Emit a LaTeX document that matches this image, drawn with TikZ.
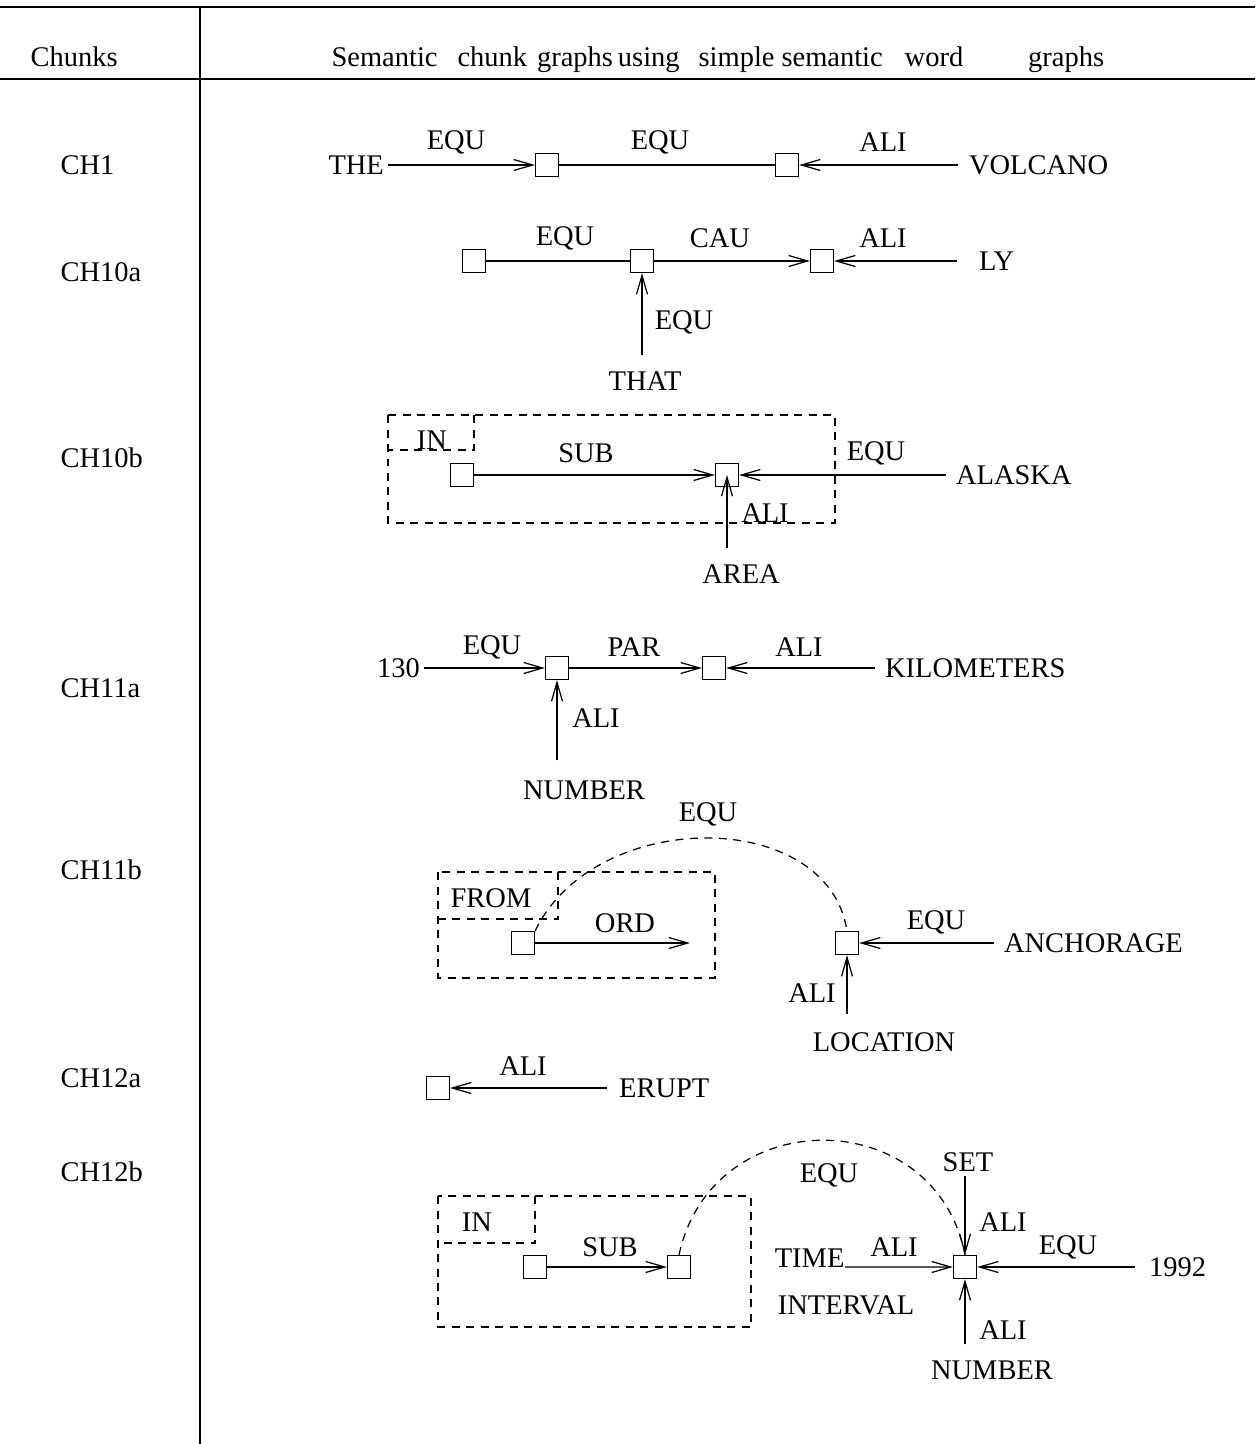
\documentclass[tikz,border=0pt]{standalone}
\usepackage{fontspec}
\setmainfont{Liberation Serif}
\usetikzlibrary{arrows.meta, positioning, calc}

\tikzset{
  cbox/.style={draw, fill=white, minimum size=0.46cm, inner sep=0pt},
  word/.style={inner sep=2pt},
  rel/.style={inner sep=0pt},
  frame/.style={dash pattern=on 0.16cm off 0.13cm},
}

\begin{document}
\begin{tikzpicture}[x=0.02cm, y=-0.02cm, >={Straight Barb[length=0.38cm,width=0.22cm]},
    line width=0.7pt, font=\fontsize{16.2}{19}\selectfont]
    \useasboundingbox (0,0) rectangle (1255,1444);

    % Table
    \draw[line width=1pt] (0,7) -- (1255,7);
    \draw[line width=1pt] (0,79) -- (1255,79);
    \draw[line width=1pt] (200,7) -- (200,1444);
    \node[anchor=base west, inner sep=0pt] (hchunks) at (30,66) {Chunks};
    \node[anchor=base west, inner sep=0pt] (hgraphs) at (331,66) {Semantic\hspace{0.40cm}chunk\hspace{0.2cm}graphs\hspace{0.1cm}using\hspace{0.38cm}simple\hspace{0.14cm}semantic\hspace{0.44cm}word\hspace{1.3cm}graphs};
    \foreach \name/\y in {CH1/165, CH10a/272, CH10b/458, CH11a/688, CH11b/870, CH12a/1078, CH12b/1172}
        \node[anchor=west, inner sep=0pt] (\name) at (60,\y) {\name};

    % CH1
    \node[word, anchor=east] (the) at (388,165) {THE};
    \node[cbox] (a1) at (547,165) {};
    \node[cbox] (a2) at (787,165) {};
    \node[word, anchor=west] (volcano) at (965,165) {VOLCANO};
    \draw[->] (the) -- (a1);
    \draw (a1) -- (a2);
    \draw[->] ([xshift=-0.14cm]volcano.west) -- (a2);
    \node[rel] at (456,142) {EQU};
    \node[rel] at (660,142) {EQU};
    \node[rel] at (883,142) {ALI};

    % CH10a
    \node[cbox] (b1) at (474,261) {};
    \node[cbox] (b2) at (642,261) {};
    \node[cbox] (b3) at (822,261) {};
    \node[word, anchor=west] (ly) at (975,261) {LY};
    \node[word] (that) at (645,381) {THAT};
    \draw (b1) -- (b2);
    \draw[->] (b2) -- (b3);
    \draw[->] ([xshift=-0.36cm]ly.west) -- (b3);
    \draw[->] (that.north -| b2) ++(0,-12) -- (b2);
    \node[rel] at (565,238) {EQU};
    \node[rel] at (720,238) {CAU};
    \node[rel] at (883,238) {ALI};
    \node[rel] at (684,322) {EQU};

    % CH10b
    \draw[frame] (388,415) rectangle (835,523);
    \draw[frame] (474,415) -- (474,450) -- (388,450);
    \node[rel] (in1) at (432,440) {IN};
    \node[cbox] (c1) at (462,475) {};
    \node[cbox] (c2) at (727,475) {};
    \node[word, anchor=west] (alaska) at (952,475) {ALASKA};
    \node[word] (area) at (741,574) {AREA};
    \draw[->] (c1) -- (c2);
    \draw[->] ([xshift=-0.12cm]alaska.west) -- (c2);
    \draw[->] (area.north -| c2) ++(0,-12) -- (c2.center);
    \node[rel] at (586,453) {SUB};
    \node[rel] at (876,453) {EQU};
    \node[rel] at (765,513) {ALI};

    % CH11a
    \node[word, anchor=east] (n130) at (424,668) {130};
    \node[cbox] (d1) at (557,668) {};
    \node[cbox] (d2) at (714,668) {};
    \node[word, anchor=west] (km) at (881,668) {KILOMETERS};
    \node[word] (number1) at (584,790) {NUMBER};
    \draw[->] (n130) -- (d1);
    \draw[->] (d1) -- (d2);
    \draw[->] ([xshift=-0.12cm]km.west) -- (d2);
    \draw[->] (number1.north -| d1) ++(0,-16) -- (d1);
    \node[rel] at (492,647) {EQU};
    \node[rel] at (634,647) {PAR};
    \node[rel] at (799,647) {ALI};
    \node[rel] at (596,718) {ALI};

    % CH11b
    \draw[frame] (438,872) rectangle (715,978);
    \draw[frame] (558,872) -- (558,919) -- (438,919);
    \node[rel] (from) at (491,898) {FROM};
    \node[cbox] (e1) at (523,943) {};
    \coordinate (ordend) at (690,943);
    \node[cbox] (e2) at (847,943) {};
    \node[word, anchor=west] (anch) at (1000,943) {ANCHORAGE};
    \node[word] (location) at (884,1042) {LOCATION};
    \draw[->] (e1) -- (ordend);
    \draw[->] ([xshift=-0.12cm]anch.west) -- (e2);
    \draw[->] (location.north -| e2) ++(0,-14) -- (e2);
    \draw[frame] (e1.north east) .. controls (595,807) and (828,807) .. (e2.north);
    \node[rel] at (625,923) {ORD};
    \node[rel] at (936,922) {EQU};
    \node[rel] at (708,814) {EQU};
    \node[rel] at (812,993) {ALI};

    % CH12a
    \node[cbox] (f1) at (438,1088) {};
    \node[word, anchor=west] (erupt) at (615,1088) {ERUPT};
    \draw[->] ([xshift=-0.16cm]erupt.west) -- (f1);
    \node[rel] at (523,1066) {ALI};

    % CH12b
    \draw[frame] (438,1196) rectangle (751,1327);
    \draw[frame] (535,1196) -- (535,1243) -- (438,1243);
    \node[rel] (in2) at (477,1222) {IN};
    \node[cbox] (g1) at (535,1267) {};
    \node[cbox] (g2) at (679,1267) {};
    \node[cbox] (g3) at (965,1267) {};
    \node[rel, anchor=east] (time) at (845,1258) {TIME};
    \node[rel] (interval) at (846,1305) {INTERVAL};
    \node[word] (set) at (968,1162) {SET};
    \node[word, anchor=west] (y1992) at (1145,1267) {1992};
    \node[word] (number2) at (992,1370) {NUMBER};
    \draw[->] (g1) -- (g2);
    \draw[->] (time.south east) ++(0,-1) -- (g3);
    \draw[->] (set.south -| g3) -- (g3);
    \draw[->] ([xshift=-0.2cm]y1992.west) -- (g3);
    \draw[->] (number2.north -| g3) ++(0,-12) -- (g3);
    \draw[frame] (g2.north) .. controls (712,1102) and (935,1102) .. (g3.north);
    \node[rel] at (610,1247) {SUB};
    \node[rel] at (829,1175) {EQU};
    \node[rel] at (894,1247) {ALI};
    \node[rel] at (1003,1222) {ALI};
    \node[rel] at (1068,1247) {EQU};
    \node[rel] at (1003,1330) {ALI};
\end{tikzpicture}
\end{document}
